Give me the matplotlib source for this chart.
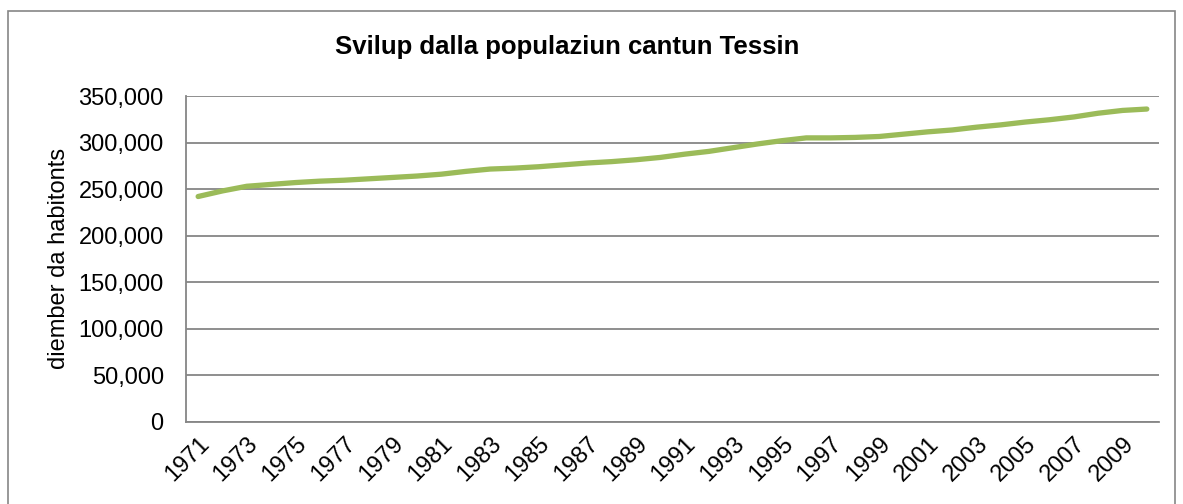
import matplotlib
matplotlib.use('Agg')
import matplotlib.pyplot as plt
from matplotlib.patches import Rectangle
from matplotlib.ticker import FuncFormatter

plt.rcParams['font.family'] = ['Liberation Sans', 'DejaVu Sans']

years = list(range(1971, 2011))
population = [
    242000, 248000, 253000, 255000, 257000, 258500, 259500, 261000, 262500, 264000,
    266000, 269000, 271500, 272500, 274000, 276000, 278000, 279500, 281500, 284000,
    287500, 290500, 294500, 298500, 302000, 305000, 305000, 305500, 306500, 309000,
    311500, 313500, 316500, 319000, 322000, 324500, 327500, 331500, 334500, 336000,
]
tick_years = years[::2]
y_ticks = [0, 50000, 100000, 150000, 200000, 250000, 300000, 350000]

title = "Svilup dalla populaziun cantun Tessin"
ylabel = "diember da habitonts"

fig = plt.figure(figsize=(11.83, 5.04), dpi=100)
ax = fig.add_axes([0.1572, 0.1633, 0.8225, 0.6462])

# outer chart frame
fig.patches.append(Rectangle((8 / 1183, -0.05), 1167 / 1183, 1 - 11 / 504 + 0.05,
                             transform=fig.transFigure, fill=False,
                             edgecolor='#868686', linewidth=1.2))

x = list(range(len(years)))
ax.plot(x, population, color='#9BBB59', linewidth=3.8, solid_capstyle='round',
        solid_joinstyle='round', zorder=3)

ax.set_xlim(-0.5, len(years) - 0.5)
ax.set_ylim(0, 350000)
ax.set_yticks(y_ticks)
ax.yaxis.set_major_formatter(FuncFormatter(lambda v, p: "{:,.0f}".format(v)))
ax.set_xticks([years.index(y) for y in tick_years])
ax.set_xticklabels([str(y) for y in tick_years], rotation=45, ha='right',
                   rotation_mode='anchor')

ax.tick_params(axis='both', length=0, labelsize=17, colors='black')
ax.tick_params(axis='y', pad=16)
ax.tick_params(axis='x', pad=8)
ax.grid(axis='y', color='#868686', linewidth=1.3, zorder=1)
for s in ['top', 'right']:
    ax.spines[s].set_visible(False)
for s in ['left', 'bottom']:
    ax.spines[s].set_color('#868686')
    ax.spines[s].set_linewidth(1.3)

ax.set_ylabel(ylabel, fontsize=17, labelpad=6)
fig.text(567 / 1183, 1 - 47 / 504, title, fontsize=18.5, fontweight='bold',
         ha='center', va='center')

fig.savefig('out.png', dpi=100)
